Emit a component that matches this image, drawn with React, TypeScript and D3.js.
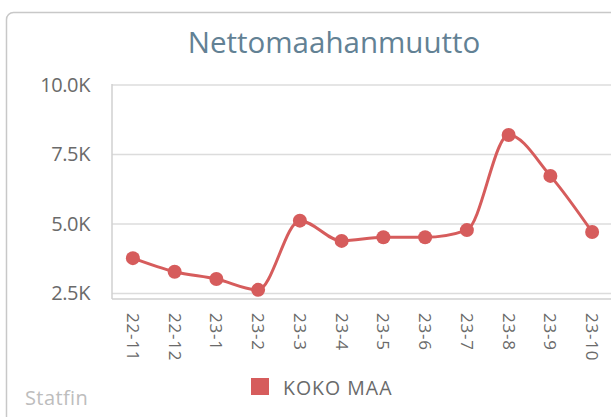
import React from "react";
import { scaleBand, scaleLinear, line, curveMonotoneX } from "d3";

const months = ["22-11", "22-12", "23-1", "23-2", "23-3", "23-4", "23-5", "23-6", "23-7", "23-8", "23-9", "23-10"];
const kokoMaa = [3770, 3280, 3020, 2630, 5120, 4390, 4520, 4520, 4780, 8200, 6730, 4710];
const yTicks = [2500, 5000, 7500, 10000];

const W = 611;
const H = 417;
const left = 112;
const top = 85;
const bottom = 299;
const red = "#d65c5c";
const font = "'Open Sans', 'Noto Sans', sans-serif";

const App = () => {
  // card is cut off on the right, so the band range runs past the window
  const x = scaleBand().domain(months).range([left, left + 12 * 41.75]);
  const y = scaleLinear().domain([2300, 10000]).range([bottom, top]);
  const cx = (m: string) => (x(m) as number) + x.bandwidth() / 2;

  const path = line<number>()
    .x((d, i) => cx(months[i]))
    .y((d) => y(d))
    .curve(curveMonotoneX)(kokoMaa);

  const fmt = (v: number) => (v / 1000).toFixed(1) + "K";

  return (
    <svg width={W} height={H} style={{ position: "absolute", left: 0, top: 0, background: "#fff" }}>
      <rect x={6.5} y={12.5} width={640} height={430} rx={7} fill="#fff" stroke="#c8c8c8" strokeWidth={1.5} />
      <text x={334} y={53} textAnchor="middle" fontFamily={font} fontSize={29.5} fill="#628194">
        Nettomaahanmuutto
      </text>

      {yTicks.map((t) => (
        <g key={t}>
          <line x1={left} x2={W + 20} y1={y(t)} y2={y(t)} stroke="#dcdcdc" strokeWidth={1.5} />
          <text x={90} y={y(t)} dy="0.35em" textAnchor="end" fontFamily={font} fontSize={20} fill="#6a6a6a" letterSpacing={-0.4}>
            {fmt(t)}
          </text>
        </g>
      ))}
      <line x1={left} x2={W + 20} y1={bottom} y2={bottom} stroke="#d0d0d0" strokeWidth={1.5} />
      <line x1={left} x2={left} y1={top - 1} y2={bottom} stroke="#d0d0d0" strokeWidth={1.5} />

      {months.map((m) => (
        <text
          key={m}
          transform={`translate(${cx(m) - 6},${313}) rotate(90)`}
          fontFamily={font}
          fontSize={17}
          fill="#6a6a6a"
          letterSpacing={0.8}
        >
          {m}
        </text>
      ))}

      <path d={path || ""} fill="none" stroke={red} strokeWidth={3} />
      {kokoMaa.map((v, i) => (
        <circle key={months[i]} cx={cx(months[i])} cy={y(v)} r={7} fill={red} />
      ))}

      <rect x={251} y={378} width={18} height={17} fill={red} />
      <text x={283} y={395} fontFamily={font} fontSize={19.5} fill="#6a6a6a" letterSpacing={1}>
        KOKO MAA
      </text>
      <text x={25} y={405} fontFamily={font} fontSize={20} fill="#bdbdbd" letterSpacing={0.4}>
        Statfin
      </text>
    </svg>
  );
};

export default App;
